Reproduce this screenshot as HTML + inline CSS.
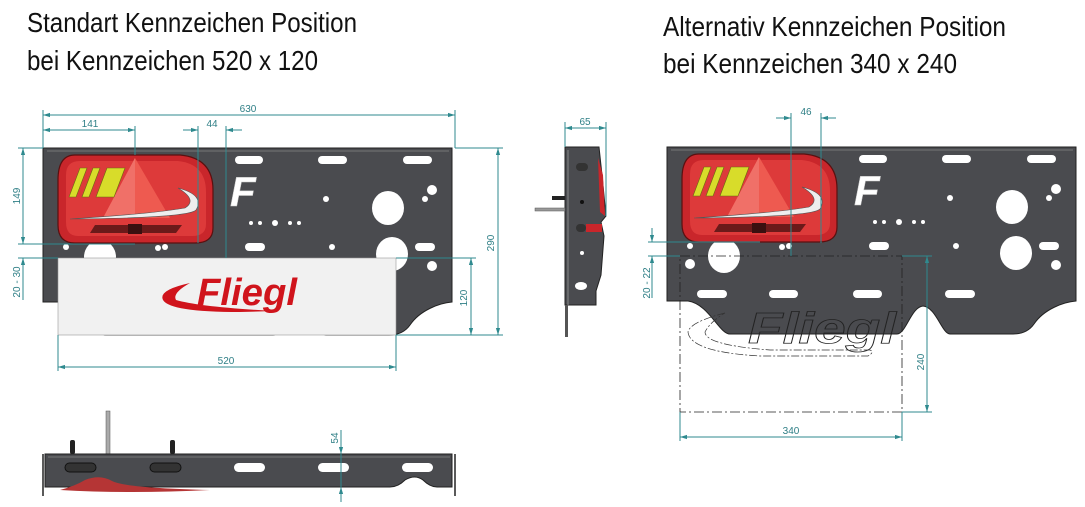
<!DOCTYPE html>
<html><head><meta charset="utf-8"><style>
html,body{margin:0;padding:0;background:#fff;}
svg{display:block;}
.t{font-family:"Liberation Sans Narrow","Liberation Sans",sans-serif;fill:#111;font-size:28px;}
.d{font-family:"Liberation Sans Narrow","Liberation Sans",sans-serif;fill:#2f7f86;font-size:10px;}
.dl{stroke:#2f8a8f;stroke-width:1;fill:none;}
</style></head><body>
<svg width="1085" height="507" viewBox="0 0 1085 507" xmlns="http://www.w3.org/2000/svg">
<defs>
<marker id="a" viewBox="0 0 10 10" refX="10" refY="5" markerWidth="7" markerHeight="7" orient="auto-start-reverse"><path d="M0,2 L10,5 L0,8 z" fill="#2f8a8f"/></marker>
<g id="plate">
  <path d="M43,148 H452 V302 C440,303 420,310 410,325 Q403,335 389,335 H326 C318,335 312,308 299,307 C287,308 282,335 273,335 H106 C95,335 85,305 64,302 H43 Z" fill="#4a4b4f" stroke="#222" stroke-width="1"/>
  <line x1="47" y1="151" x2="449" y2="151" stroke="#777" stroke-width="1"/>
  <g fill="#fff">
    <rect x="67" y="156" width="24" height="8" rx="4"/>
    <rect x="235" y="156" width="28" height="8" rx="4"/>
    <rect x="318" y="156" width="29" height="8" rx="4"/>
    <rect x="403" y="156" width="29" height="8" rx="4"/>
    <ellipse cx="388" cy="208" rx="16" ry="17"/>
    <circle cx="432" cy="190" r="5"/><circle cx="425" cy="199" r="3"/>
    <circle cx="326" cy="199" r="3"/>
    <circle cx="251" cy="223" r="2"/><circle cx="260" cy="223" r="2"/><circle cx="275" cy="223" r="3"/><circle cx="290" cy="223" r="2"/><circle cx="299" cy="223" r="2"/>
    <rect x="245" y="243" width="20" height="8" rx="4"/>
    <circle cx="332" cy="247" r="3"/>
    <rect x="415" y="243" width="20" height="8" rx="4"/>
    <ellipse cx="392" cy="254" rx="16" ry="17"/>
    <circle cx="432" cy="266" r="5"/>
    <circle cx="66" cy="247" r="3"/>
    <circle cx="158" cy="248" r="3"/><circle cx="165" cy="247" r="3"/>
    <ellipse cx="100" cy="257" rx="16" ry="17"/>
    <circle cx="66" cy="265" r="5"/>
    <rect x="73" y="291" width="30" height="8" rx="4"/>
    <rect x="145" y="291" width="29" height="8" rx="4"/>
    <rect x="229" y="291" width="29" height="8" rx="4"/>
    <rect x="321" y="291" width="30" height="8" rx="4"/>
  </g>
  <text x="230" y="206" font-family="Liberation Sans,sans-serif" font-weight="bold" font-style="italic" font-size="42" fill="#fff" stroke="#ccc" stroke-width="0.5">F</text>
  <!-- tail light -->
  <path d="M75,155 H180 Q213,158 213,190 V228 Q213,243 195,243 H75 Q58,243 58,225 V180 Q58,155 75,155 Z" fill="#c9262b" stroke="#5a1010" stroke-width="1.2"/>
  <path d="M66,175 Q66,161 80,161 H178 Q206,164 206,192 V224 Q206,236 192,236 H78 Q66,236 66,222 Z" fill="#dd3a3a"/>
  <polygon points="135,158 103,218 170,218" fill="#ee5a50"/>
  <polygon points="135,158 103,218 135,218" fill="#f07068"/>
  <g fill="#d8dc2a" stroke="#6b6b10" stroke-width="0.6">
    <polygon points="80,168 87,168 76,197 69,197"/>
    <polygon points="93,168 100,168 89,197 82,197"/>
    <polygon points="107,168 125,168 114,197 96,197"/>
  </g>
  <path d="M178,188 Q205,195 196,210 Q188,218 70,219 Q150,214 185,208 Q198,200 178,188 Z" fill="#eee" stroke="#555" stroke-width="0.6"/>
  <polygon points="95,225 182,225 176,233 90,233" fill="#6b1a1a"/>
  <rect x="128" y="224" width="14" height="10" fill="#3a1010"/>
</g>
</defs>

<!-- Titles -->
<text class="t" x="27" y="32" textLength="330" lengthAdjust="spacingAndGlyphs">Standart Kennzeichen Position</text>
<text class="t" x="27" y="70" textLength="291" lengthAdjust="spacingAndGlyphs">bei Kennzeichen 520 x 120</text>
<text class="t" x="663" y="36" textLength="343" lengthAdjust="spacingAndGlyphs">Alternativ Kennzeichen Position</text>
<text class="t" x="663" y="73" textLength="294" lengthAdjust="spacingAndGlyphs">bei Kennzeichen 340 x 240</text>

<!-- LEFT VIEW -->
<use href="#plate"/>
<rect x="58" y="258" width="338" height="77" fill="#f1f1f1" stroke="#999" stroke-width="0.6"/>
<path d="M190,283 Q158,290 163,300 Q170,312 240,312 L275,311 Q200,307 176,300 Q172,293 190,283 Z" fill="#d0141c"/>
<text x="197" y="305" font-family="Liberation Sans,sans-serif" font-weight="bold" font-style="italic" font-size="38" fill="#d0141c" textLength="100" lengthAdjust="spacingAndGlyphs">Fliegl</text>

<!-- left dims -->
<g class="dl">
  <line x1="43" y1="110" x2="43" y2="148"/><line x1="455" y1="110" x2="455" y2="148"/>
  <line x1="43" y1="115" x2="455" y2="115" marker-start="url(#a)" marker-end="url(#a)"/>
  <line x1="135" y1="126" x2="135" y2="155"/>
  <line x1="43" y1="130" x2="135" y2="130" marker-start="url(#a)" marker-end="url(#a)"/>
  <line x1="198" y1="126" x2="198" y2="243"/><line x1="226" y1="126" x2="226" y2="258"/>
  <line x1="183" y1="130" x2="198" y2="130" marker-end="url(#a)"/>
  <line x1="242" y1="130" x2="226" y2="130" marker-end="url(#a)"/>
  <line x1="18" y1="148" x2="43" y2="148"/><line x1="18" y1="244" x2="135" y2="244"/>
  <line x1="23" y1="148" x2="23" y2="244" marker-start="url(#a)" marker-end="url(#a)"/>
  <line x1="18" y1="258" x2="58" y2="258"/>
  <line x1="23" y1="258" x2="23" y2="300"/>
  <line x1="23" y1="268" x2="23" y2="258" marker-end="url(#a)"/>
  <line x1="455" y1="148" x2="503" y2="148"/><line x1="396" y1="335" x2="503" y2="335"/>
  <line x1="498" y1="148" x2="498" y2="335" marker-start="url(#a)" marker-end="url(#a)"/>
  <line x1="396" y1="258" x2="476" y2="258"/>
  <line x1="471" y1="258" x2="471" y2="335" marker-start="url(#a)" marker-end="url(#a)"/>
  <line x1="58" y1="335" x2="58" y2="371"/><line x1="396" y1="335" x2="396" y2="371"/>
  <line x1="58" y1="367" x2="396" y2="367" marker-start="url(#a)" marker-end="url(#a)"/>
</g>
<text class="d" x="248" y="112" text-anchor="middle">630</text>
<text class="d" x="90" y="127" text-anchor="middle">141</text>
<text class="d" x="212" y="127" text-anchor="middle">44</text>
<text class="d" x="226" y="364" text-anchor="middle">520</text>
<text class="d" transform="translate(20,196) rotate(-90)" text-anchor="middle">149</text>
<text class="d" transform="translate(20,282) rotate(-90)" text-anchor="middle">20 - 30</text>
<text class="d" transform="translate(494,243) rotate(-90)" text-anchor="middle">290</text>
<text class="d" transform="translate(467,298) rotate(-90)" text-anchor="middle">120</text>

<!-- SIDE VIEW -->
<g>
  <path d="M565,147 H599 L602,175 L606,216 L601,222 L604,236 L601,275 L596,291 L596,305 H565 Z" fill="#4a4b4f" stroke="#222"/>
  <line x1="568" y1="150" x2="568" y2="305" stroke="#888"/>
  <path d="M598,158 L603,175 L605,216 L600,212 Z" fill="#c9262b"/>
  <rect x="586" y="224" width="16" height="8" fill="#c9262b"/>
  <rect x="576" y="224" width="10" height="8" rx="4" fill="#333"/>
  <rect x="576" y="163" width="12" height="8" rx="4" fill="#333"/>
  <circle cx="582" cy="202" r="2" fill="#111"/>
  <circle cx="582" cy="253" r="2" fill="#fff"/>
  <ellipse cx="581" cy="286" rx="6" ry="4" fill="#fff"/>
  <rect x="552" y="196" width="13" height="4" fill="#222"/>
  <rect x="535" y="208" width="30" height="3" fill="#999" stroke="#555" stroke-width="0.5"/>
  <rect x="565" y="305" width="3" height="32" fill="#555"/>
</g>
<g class="dl">
  <line x1="565" y1="122" x2="565" y2="147"/><line x1="606" y1="122" x2="606" y2="216"/>
  <line x1="565" y1="128" x2="606" y2="128" marker-start="url(#a)" marker-end="url(#a)"/>
</g>
<text class="d" x="585" y="125" text-anchor="middle">65</text>

<!-- BOTTOM VIEW -->
<g>
  <rect x="106" y="411" width="4" height="43" fill="#aaa" stroke="#555" stroke-width="0.5"/>
  <rect x="70" y="440" width="5" height="14" rx="2" fill="#222"/>
  <rect x="170" y="440" width="5" height="14" rx="2" fill="#222"/>
  <path d="M45,454 H452 V487 H437 Q430,487 423,480 Q415,474 405,480 Q398,487 390,487 H45 Z" fill="#4a4b4f" stroke="#222"/>
  <line x1="43" y1="454" x2="43" y2="496" stroke="#222" stroke-width="1.5"/>
  <line x1="455" y1="454" x2="455" y2="496" stroke="#222" stroke-width="1.5"/>
  <line x1="48" y1="457" x2="450" y2="457" stroke="#777"/>
  <rect x="65" y="463" width="31" height="9" rx="4.5" fill="#333" stroke="#111"/>
  <rect x="150" y="463" width="31" height="9" rx="4.5" fill="#333" stroke="#111"/>
  <rect x="234" y="463" width="31" height="9" rx="4.5" fill="#fff"/>
  <rect x="318" y="463" width="31" height="9" rx="4.5" fill="#fff"/>
  <rect x="402" y="463" width="31" height="9" rx="4.5" fill="#fff"/>
  <path d="M60,490 Q75,486 85,480 Q100,474 112,481 Q125,488 210,490 Q130,494 60,490 Z" fill="#b53535"/>
</g>
<g class="dl">
  <line x1="341" y1="430" x2="341" y2="502"/>
  <line x1="341" y1="440" x2="341" y2="454" marker-end="url(#a)"/>
  <line x1="341" y1="500" x2="341" y2="487" marker-end="url(#a)"/>
</g>
<text class="d" transform="translate(338,438) rotate(-90)" text-anchor="middle" font-size="8">54</text>

<!-- RIGHT VIEW -->
<use href="#plate" transform="translate(624,-1)"/>
<rect x="680" y="256" width="222" height="156" fill="none" stroke="#222" stroke-width="0.8" stroke-dasharray="10,3,2,3"/>
<path d="M725,313 Q690,322 688,332 Q690,352 760,356 L868,356 Q875,352 870,350 L770,350 Q705,345 705,332 Q710,322 725,313 Z" fill="none" stroke="#333" stroke-width="0.7" stroke-dasharray="8,2,2,2"/>
<text x="748" y="343" font-family="Liberation Sans,sans-serif" font-weight="bold" font-style="italic" font-size="44" fill="none" stroke="#222" stroke-width="0.8" textLength="148" lengthAdjust="spacingAndGlyphs">Fliegl</text>
<g class="dl">
  <line x1="791" y1="113" x2="791" y2="256"/><line x1="821" y1="113" x2="821" y2="243"/>
  <line x1="776" y1="118" x2="791" y2="118" marker-end="url(#a)"/>
  <line x1="836" y1="118" x2="821" y2="118" marker-end="url(#a)"/>
  <line x1="648" y1="242" x2="760" y2="242"/><line x1="648" y1="256" x2="680" y2="256"/>
  <line x1="652" y1="228" x2="652" y2="242" marker-end="url(#a)"/>
  <line x1="652" y1="298" x2="652" y2="256" marker-end="url(#a)"/>
  <line x1="902" y1="256" x2="932" y2="256"/><line x1="902" y1="412" x2="932" y2="412"/>
  <line x1="927" y1="256" x2="927" y2="412" marker-start="url(#a)" marker-end="url(#a)"/>
  <line x1="680" y1="412" x2="680" y2="441"/><line x1="902" y1="412" x2="902" y2="441"/>
  <line x1="680" y1="437" x2="902" y2="437" marker-start="url(#a)" marker-end="url(#a)"/>
</g>
<text class="d" x="806" y="115" text-anchor="middle">46</text>
<text class="d" x="791" y="434" text-anchor="middle">340</text>
<text class="d" transform="translate(650,283) rotate(-90)" text-anchor="middle">20 - 22</text>
<text class="d" transform="translate(924,362) rotate(-90)" text-anchor="middle">240</text>
</svg>
</body></html>
